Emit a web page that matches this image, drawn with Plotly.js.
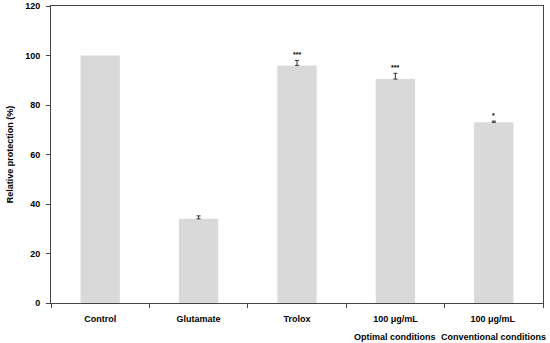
<!DOCTYPE html>
<html>
<head>
<meta charset="utf-8">
<script src="https://cdn.plot.ly/plotly-3.0.1.min.js"></script>
<style>html,body{margin:0;padding:0;background:#fff;}#chart{width:550px;height:343px;}</style>
</head>
<body>
<div id="chart"></div>
<script>
var categories = ["Control", "Glutamate", "Trolox", "100 μg/mL", "100 μg/mL "];
var subLabels = ["", "", "", "Optimal conditions", "Conventional conditions"];
var values = [100, 34, 96, 90.5, 73];
var errors = [null, 1.2, 2, 2.3, 0.5];
var stars = ["", "", "***", "***", "*"];

var F = "Liberation Sans, Arial, sans-serif";
var annotations = [];
var ex = [], ey = [], ee = [];
for (var i = 0; i < categories.length; i++) {
  if (subLabels[i]) {
    annotations.push({x: categories[i], xref: 'x', y: 0, yref: 'paper', text: '<b>' + subLabels[i] + '</b>',
      showarrow: false, yanchor: 'middle', yshift: -34, font: {family: F, size: 9, color: '#000'}});
  }
  if (stars[i]) {
    annotations.push({x: categories[i], xref: 'x', y: values[i] + (errors[i] || 0), yref: 'y', text: '<b>' + stars[i] + '</b>',
      showarrow: false, yanchor: 'bottom', yshift: 0, font: {family: F, size: 7, color: '#000'}});
  }
  if (errors[i] !== null) { ex.push(categories[i]); ey.push(values[i]); ee.push(errors[i]); }
}

var bars = {
  type: 'bar', x: categories, y: values, width: 0.4,
  marker: {color: '#d9d9d9', line: {width: 0}}
};
var errs = {
  type: 'scatter', mode: 'markers', x: ex, y: ey,
  marker: {size: 1, opacity: 0},
  error_y: {type: 'data', symmetric: false, array: ee, arrayminus: ee.map(function(){return 0;}),
            visible: true, color: '#333', thickness: 1, width: 2}
};

var layout = {
  width: 550, height: 343,
  margin: {l: 51, r: 7, t: 6, b: 40},
  paper_bgcolor: '#fff', plot_bgcolor: '#fff',
  showlegend: false,
  font: {family: F, size: 9, color: '#000'},
  xaxis: {
    type: 'category', range: [-0.5, 4.5], tickson: 'boundaries',
    categoryorder: 'array', categoryarray: categories,
    ticks: 'outside', ticklen: 4, tickcolor: '#444',
    showline: true, linecolor: '#444', linewidth: 1, mirror: true,
    showgrid: false, zeroline: false,
    tickvals: categories, ticktext: categories.map(function(c){return '<b>' + c + '</b>';}),
    tickfont: {family: F, size: 9, color: '#000'}, ticklabelstandoff: 7
  },
  yaxis: {
    range: [0, 120], tickvals: [0, 20, 40, 60, 80, 100, 120],
    ticks: 'outside', ticklen: 4, tickcolor: '#444',
    showline: true, linecolor: '#444', linewidth: 1, mirror: true,
    showgrid: false, zeroline: false,
    ticktext: ['0', '20', '40', '60', '80', '100', '120'].map(function(t){return '<b>' + t + '</b>';}),
    tickfont: {family: F, size: 9, color: '#000'}, ticklabelstandoff: 4,
    title: {text: '<b>Relative protection (%)</b>', font: {family: F, size: 9, color: '#000'}, standoff: 10}
  },
  annotations: annotations
};

Plotly.newPlot('chart', [bars, errs], layout, {displayModeBar: false, staticPlot: true});
</script>
</body>
</html>
